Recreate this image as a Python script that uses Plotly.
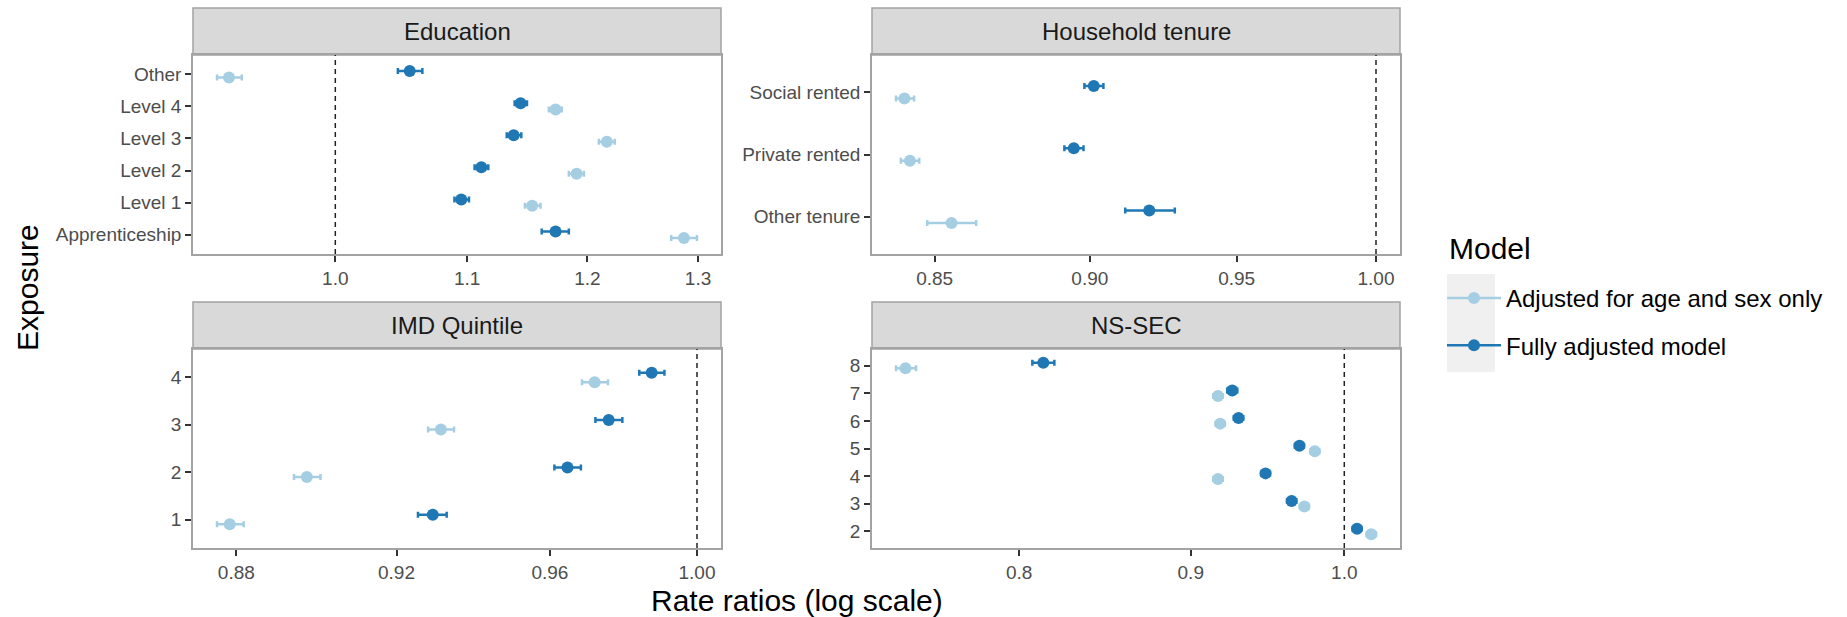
import math
import plotly.graph_objects as go

W, H = 1847, 617

# ---------------- data (bottom-to-top category order) ----------------
edu_cats = ["Apprenticeship", "Level 1", "Level 2", "Level 3", "Level 4", "Other"]
edu_adj_est = [1.2868, 1.153, 1.1907, 1.217, 1.1727, 0.926]
edu_adj_lo = [1.275, 1.147, 1.184, 1.210, 1.167, 0.918]
edu_adj_hi = [1.299, 1.160, 1.197, 1.224, 1.178, 0.9346]
edu_full_est = [1.1727, 1.0954, 1.1114, 1.1377, 1.1434, 1.0553]
edu_full_lo = [1.161, 1.090, 1.106, 1.132, 1.1385, 1.0463]
edu_full_hi = [1.184, 1.1015, 1.117, 1.144, 1.1487, 1.065]

ten_cats = ["Other tenure", "Private rented", "Social rented"]
ten_adj_est = [0.8553, 0.8423, 0.8406]
ten_adj_lo = [0.8477, 0.8395, 0.8380]
ten_adj_hi = [0.8631, 0.8452, 0.8436]
ten_full_est = [0.9199, 0.8947, 0.9013]
ten_full_lo = [0.9118, 0.8916, 0.8982]
ten_full_hi = [0.9286, 0.8979, 0.9045]

imd_cats = ["1", "2", "3", "4"]
imd_adj_est = [0.8784, 0.8974, 0.9314, 0.9720]
imd_adj_lo = [0.8753, 0.8942, 0.9281, 0.9686]
imd_adj_hi = [0.8818, 0.9008, 0.9348, 0.9756]
imd_full_est = [0.9293, 0.9647, 0.9758, 0.9875]
imd_full_lo = [0.9255, 0.9612, 0.9722, 0.9841]
imd_full_hi = [0.9329, 0.9683, 0.9795, 0.9910]

ns_cats = ["2", "3", "4", "5", "6", "7", "8"]
ns_adj_est = [1.0187, 0.9730, 0.9170, 0.9800, 0.9184, 0.9170, 0.7400]
ns_adj_lo = [1.0155, 0.9700, 0.9140, 0.9770, 0.9155, 0.9140, 0.7352]
ns_adj_hi = [1.0220, 0.9760, 0.9200, 0.9830, 0.9213, 0.9200, 0.7454]
ns_full_est = [1.0088, 0.9645, 0.9474, 0.9697, 0.9300, 0.9260, 0.8134]
ns_full_lo = [1.0058, 0.9615, 0.9445, 0.9667, 0.9270, 0.9228, 0.8073]
ns_full_hi = [1.0118, 0.9676, 0.9503, 0.9727, 0.9330, 0.9292, 0.8196]

series_names = ["Adjusted for age and sex only", "Fully adjusted model"]
ref_value = 1.0

# ---------------- styling ----------------
LIGHT, DARK = "#A6CEE3", "#1F78B4"
FONT = "Liberation Sans, Arial, sans-serif"
BORDER = "#A3A3A3"

def dom_x(a, b):
    return [a / W, b / W]

def dom_y(top, bottom):
    return [1 - bottom / H, 1 - top / H]

panels = [
    dict(title="Education", cats=edu_cats,
         adj=(edu_adj_est, edu_adj_lo, edu_adj_hi), full=(edu_full_est, edu_full_lo, edu_full_hi),
         tv=[1.0, 1.1, 1.2, 1.3], tt=["1.0", "1.1", "1.2", "1.3"],
         xd=dom_x(193, 721), yd=dom_y(55, 254), strip=dom_y(8, 55)),
    dict(title="Household tenure", cats=ten_cats,
         adj=(ten_adj_est, ten_adj_lo, ten_adj_hi), full=(ten_full_est, ten_full_lo, ten_full_hi),
         tv=[0.85, 0.90, 0.95, 1.00], tt=["0.85", "0.90", "0.95", "1.00"],
         xd=dom_x(872, 1400), yd=dom_y(55, 254), strip=dom_y(8, 55)),
    dict(title="IMD Quintile", cats=imd_cats,
         adj=(imd_adj_est, imd_adj_lo, imd_adj_hi), full=(imd_full_est, imd_full_lo, imd_full_hi),
         tv=[0.88, 0.92, 0.96, 1.00], tt=["0.88", "0.92", "0.96", "1.00"],
         xd=dom_x(193, 721), yd=dom_y(349, 548), strip=dom_y(302, 349)),
    dict(title="NS-SEC", cats=ns_cats,
         adj=(ns_adj_est, ns_adj_lo, ns_adj_hi), full=(ns_full_est, ns_full_lo, ns_full_hi),
         tv=[0.8, 0.9, 1.0], tt=["0.8", "0.9", "1.0"],
         xd=dom_x(872, 1400), yd=dom_y(349, 548), strip=dom_y(302, 349)),
]

fig = go.Figure()
shapes, annotations = [], []
layout_axes = {}
DODGE = 0.1

for k, p in enumerate(panels):
    sfx = "" if k == 0 else str(k + 1)
    xa, ya = "x" + sfx, "y" + sfx
    n = len(p["cats"])
    pos = list(range(1, n + 1))

    for (est, lo, hi), color, off in [(p["adj"], LIGHT, -DODGE), (p["full"], DARK, DODGE)]:
        fig.add_trace(go.Scatter(
            x=est, y=[q + off for q in pos], mode="markers",
            marker=dict(color=color, size=12),
            error_x=dict(type="data", symmetric=False,
                         array=[h - e for h, e in zip(hi, est)],
                         arrayminus=[e - l for e, l in zip(est, lo)],
                         color=color, thickness=2.5, width=3),
            xaxis=xa, yaxis=ya, showlegend=False, hoverinfo="x+y"))

    ylo, yhi = 0.4, n + 0.6
    fig.add_trace(go.Scatter(x=[ref_value, ref_value], y=[ylo, yhi], mode="lines",
                             line=dict(color="#222222", width=1.5, dash="5px,4px"),
                             xaxis=xa, yaxis=ya, showlegend=False, hoverinfo="skip"))

    vals = list(p["adj"][1]) + list(p["adj"][2]) + list(p["full"][1]) + list(p["full"][2]) + [ref_value]
    lmin, lmax = math.log10(min(vals)), math.log10(max(vals))
    pad = 0.05 * (lmax - lmin)

    layout_axes["xaxis" + sfx] = dict(
        type="log", range=[lmin - pad, lmax + pad], domain=p["xd"], anchor=ya,
        tickvals=p["tv"], ticktext=p["tt"], showgrid=False, zeroline=False,
        showline=True, mirror=True, linecolor=BORDER, linewidth=1.5,
        ticks="outside", ticklen=6, tickwidth=2, tickcolor="#333333",
        tickfont=dict(family=FONT, size=19, color="#4D4D4D"))
    layout_axes["yaxis" + sfx] = dict(
        range=[ylo, yhi], domain=p["yd"], anchor=xa,
        tickvals=pos, ticktext=p["cats"], showgrid=False, zeroline=False,
        showline=True, mirror=True, linecolor=BORDER, linewidth=1.5,
        ticks="outside", ticklen=6, tickwidth=2, tickcolor="#333333",
        tickfont=dict(family=FONT, size=19, color="#4D4D4D"))

    shapes.append(dict(type="rect", xref=xa + " domain", yref="paper",
                       x0=0, x1=1, y0=p["strip"][0], y1=p["strip"][1],
                       fillcolor="#D9D9D9", line=dict(color=BORDER, width=1.5), layer="below"))
    annotations.append(dict(text=p["title"], xref=xa + " domain", yref="paper", x=0.5,
                            y=(p["strip"][0] + p["strip"][1]) / 2, showarrow=False,
                            xanchor="center", yanchor="middle",
                            font=dict(family=FONT, size=24, color="#1A1A1A")))

# legend entries (line + dot keys)
for name, color in zip(series_names, [LIGHT, DARK]):
    fig.add_trace(go.Scatter(x=[None], y=[None], mode="lines+markers", name=name,
                             legendgroup=name,
                             line=dict(color=color, width=2.5), marker=dict(color=color, size=12),
                             xaxis="x4", yaxis="y4", showlegend=True))

# legend key background
shapes.append(dict(type="rect", xref="paper", yref="paper",
                   x0=1447 / W, x1=1495 / W, y0=1 - 372 / H, y1=1 - 274 / H,
                   fillcolor="#F0F0F0", line=dict(width=0), layer="below"))

annotations.append(dict(text="Model", xref="paper", yref="paper",
                        x=1447 / W, y=1 - 248 / H, showarrow=False,
                        xanchor="left", yanchor="middle",
                        font=dict(family=FONT, size=30, color="black")))
annotations.append(dict(text="Rate ratios (log scale)", xref="paper", yref="paper",
                        x=(193 + 1400) / 2 / W, y=1 - 600 / H, showarrow=False,
                        xanchor="center", yanchor="middle",
                        font=dict(family=FONT, size=30, color="black")))
annotations.append(dict(text="Exposure", xref="paper", yref="paper",
                        x=27 / W, y=1 - 288 / H, showarrow=False, textangle=-90,
                        xanchor="center", yanchor="middle",
                        font=dict(family=FONT, size=30, color="black")))

fig.update_layout(
    width=W, height=H, margin=dict(l=0, r=0, t=0, b=0),
    paper_bgcolor="white", plot_bgcolor="white",
    shapes=shapes, annotations=annotations,
    legend=dict(x=1442 / W, y=1 - 276 / H, xanchor="left", yanchor="top",
                font=dict(family=FONT, size=24, color="black"),
                bgcolor="rgba(0,0,0,0)", tracegroupgap=13, itemwidth=54),
    **layout_axes)

fig.write_html("out.html", config={"displayModeBar": False},
               post_script="document.body.style.margin='0';")
